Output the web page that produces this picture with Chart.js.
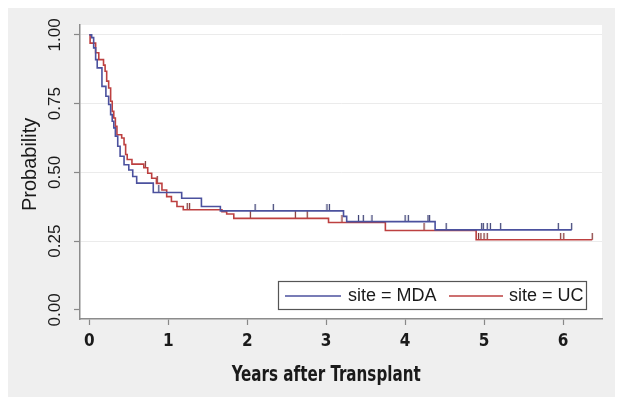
<!DOCTYPE html>
<html>
<head>
<meta charset="utf-8">
<script src="https://cdn.jsdelivr.net/npm/chart.js@4.4.0/dist/chart.umd.min.js"></script>
<style>
  body { margin: 0; background: #fff; }
  #wrap { width: 624px; height: 407px; }
</style>
</head>
<body>
<div id="wrap"><canvas id="km" width="624" height="407"></canvas></div>
<script>
// Kaplan-Meier steps (years after transplant, probability)
const mdaTimes = [0, 0.03, 0.055, 0.08, 0.10, 0.16, 0.21, 0.245, 0.27, 0.29, 0.31, 0.33, 0.36, 0.39, 0.44, 0.50, 0.55, 0.60, 0.81, 1.17, 1.42, 1.66, 3.22, 3.26, 4.38, 6.11];
const mdaSurv  = [1.0, 0.99, 0.953, 0.91, 0.88, 0.813, 0.777, 0.747, 0.71, 0.686, 0.662, 0.632, 0.595, 0.559, 0.528, 0.509, 0.485, 0.461, 0.427, 0.406, 0.376, 0.36, 0.34, 0.321, 0.291, 0.291];

const ucTimes = [0, 0.01, 0.08, 0.12, 0.18, 0.20, 0.22, 0.245, 0.27, 0.29, 0.31, 0.33, 0.35, 0.41, 0.44, 0.46, 0.48, 0.54, 0.69, 0.74, 0.79, 0.85, 0.92, 0.98, 1.04, 1.11, 1.19, 1.68, 1.74, 1.83, 3.03, 3.75, 4.90, 6.37];
const ucSurv  = [1.0, 0.97, 0.935, 0.91, 0.89, 0.868, 0.832, 0.807, 0.759, 0.722, 0.698, 0.668, 0.637, 0.625, 0.601, 0.565, 0.547, 0.53, 0.517, 0.497, 0.479, 0.46, 0.436, 0.412, 0.394, 0.376, 0.364, 0.357, 0.349, 0.333, 0.318, 0.289, 0.255, 0.255];

// censored follow-up times (the little ticks)
const mdaCensored = [0.88, 2.10, 2.33, 3.01, 3.04, 3.41, 3.47, 3.58, 4.00, 4.04, 4.29, 4.31, 4.52, 4.97, 4.99, 5.04, 5.08, 5.21, 5.94, 6.11];
const ucCensored  = [0.71, 0.86, 1.24, 1.27, 2.04, 2.61, 2.76, 3.20, 4.24, 4.93, 4.96, 5.00, 5.04, 5.97, 6.01, 6.37];

const seriesLabels = ['site = MDA', 'site = UC'];
const xTicks = [0, 1, 2, 3, 4, 5, 6];
const yTicks = [0, 0.25, 0.5, 0.75, 1];
const yTickLabels = ['0.00', '0.25', '0.50', '0.75', '1.00'];
const xTitle = 'Years after Transplant';
const yTitle = 'Probability';

const blue = '#4b519e';
const red = '#bd4040';
const narrow = "'Liberation Sans Narrow', 'DejaVu Sans Condensed', sans-serif";
const regular = "'Liberation Sans', Arial, sans-serif";

// value of the step curve at time t
function survAt(times, surv, t) {
  let s = surv[0];
  for (let i = 0; i < times.length; i++) {
    if (times[i] <= t) s = surv[i];
  }
  return s;
}

function toPoints(times, surv) {
  return times.map((t, i) => ({ x: t, y: surv[i] }));
}

function censorPoints(cens, times, surv) {
  return cens.map(t => ({ x: t, y: survAt(times, surv, t) }));
}

// small upward tick used as point marker (line sits in the top half of the image)
function censorMark(color) {
  const c = document.createElement('canvas');
  c.width = 3;
  c.height = 14;
  const g = c.getContext('2d');
  g.strokeStyle = color;
  g.lineWidth = 1.2;
  g.beginPath();
  g.moveTo(1.5, 0);
  g.lineTo(1.5, 7);
  g.stroke();
  return c;
}

// grey frame + white plot area behind everything
const backdrop = {
  id: 'backdrop',
  beforeDraw(chart) {
    const { ctx, chartArea: a } = chart;
    ctx.save();
    ctx.fillStyle = '#fff';
    ctx.fillRect(0, 0, chart.width, chart.height);
    ctx.fillStyle = '#efefef';
    ctx.fillRect(8, 8, 607, 389);
    ctx.fillStyle = '#fff';
    ctx.fillRect(a.left, a.top, a.right - a.left, a.bottom - a.top);
    ctx.restore();
  }
};

// axis titles and the boxed legend inside the plot
const extras = {
  id: 'extras',
  afterDraw(chart) {
    const { ctx, scales } = chart;
    const xs = scales.x, ys = scales.y;
    ctx.save();
    ctx.fillStyle = '#1a1a1a';
    ctx.textAlign = 'center';
    ctx.textBaseline = 'middle';

    ctx.font = 'bold 21px ' + narrow;
    const xMid = (xs.getPixelForValue(xTicks[0]) + xs.getPixelForValue(xTicks[xTicks.length - 1])) / 2;
    ctx.fillText(xTitle, xMid, 376, 189);

    ctx.font = '20px ' + regular;
    const yMid = (ys.getPixelForValue(yTicks[0]) + ys.getPixelForValue(yTicks[yTicks.length - 1])) / 2;
    ctx.translate(30, yMid - 8);
    ctx.rotate(-Math.PI / 2);
    ctx.fillText(yTitle, 0, 0);
    ctx.restore();

    // legend box
    ctx.save();
    ctx.fillStyle = '#fff';
    ctx.fillRect(278, 281, 309, 29);
    ctx.strokeStyle = '#555';
    ctx.lineWidth = 1.2;
    ctx.strokeRect(278.5, 281.5, 308, 28);
    ctx.font = '18px ' + regular;
    ctx.textBaseline = 'middle';
    ctx.textAlign = 'left';
    const items = [
      { ds: chart.data.datasets[0], x0: 285, x1: 341, tx: 348 },
      { ds: chart.data.datasets[1], x0: 449, x1: 503, tx: 509 }
    ];
    items.forEach(it => {
      ctx.strokeStyle = it.ds.borderColor;
      ctx.lineWidth = 1.3;
      ctx.beginPath();
      ctx.moveTo(it.x0, 296);
      ctx.lineTo(it.x1, 296);
      ctx.stroke();
      ctx.fillStyle = '#1a1a1a';
      ctx.fillText(it.ds.label, it.tx, 296);
    });
    ctx.restore();
  }
};

const ctx = document.getElementById('km').getContext('2d');

new Chart(ctx, {
  type: 'line',
  data: {
    datasets: [
      {
        label: seriesLabels[0],
        data: toPoints(mdaTimes, mdaSurv),
        borderColor: blue,
        borderWidth: 1.6,
        stepped: 'before',
        pointRadius: 0,
        fill: false
      },
      {
        label: seriesLabels[1],
        data: toPoints(ucTimes, ucSurv),
        borderColor: red,
        borderWidth: 1.6,
        stepped: 'before',
        pointRadius: 0,
        fill: false
      },
      {
        type: 'scatter',
        label: 'MDA censored',
        data: censorPoints(mdaCensored, mdaTimes, mdaSurv),
        pointStyle: censorMark('#33386e'),
        pointRadius: 7
      },
      {
        type: 'scatter',
        label: 'UC censored',
        data: censorPoints(ucCensored, ucTimes, ucSurv),
        pointStyle: censorMark('#7e2c2c'),
        pointRadius: 7
      }
    ]
  },
  options: {
    responsive: false,
    animation: false,
    devicePixelRatio: 1,
    layout: { padding: { left: 8, right: 22, top: 25, bottom: 0 } },
    plugins: {
      legend: { display: false },
      tooltip: { enabled: false }
    },
    scales: {
      x: {
        type: 'linear',
        min: -0.118,
        max: 6.494,
        afterBuildTicks: s => { s.ticks = xTicks.map(v => ({ value: v })); },
        afterFit: s => { s.height = 88; },
        ticks: {
          font: { family: narrow, size: 17, weight: 'bold' },
          color: '#1a1a1a',
          padding: 6,
          maxRotation: 0,
          callback: v => String(v)
        },
        grid: { drawOnChartArea: false, drawTicks: true, tickLength: 6, tickColor: '#888', tickWidth: 1.2 },
        border: { display: true, color: '#8c8c8c', width: 1.5 }
      },
      y: {
        min: -0.033,
        max: 1.036,
        afterBuildTicks: s => { s.ticks = yTicks.map(v => ({ value: v })); },
        afterFit: s => { s.width = 72; },
        ticks: {
          font: { family: regular, size: 17 },
          color: '#1a1a1a',
          padding: 2,
          minRotation: 90,
          maxRotation: 90,
          crossAlign: 'center',
          callback: v => yTickLabels[yTicks.indexOf(v)]
        },
        grid: {
          color: c => (c.tick && c.tick.value === 0 ? 'rgba(0,0,0,0)' : '#ebebeb'),
          lineWidth: 1,
          tickLength: 6,
          tickColor: '#888',
          tickWidth: 1.2
        },
        border: { display: true, color: '#8c8c8c', width: 1.5 }
      }
    }
  },
  plugins: [backdrop, extras]
});
</script>
</body>
</html>
